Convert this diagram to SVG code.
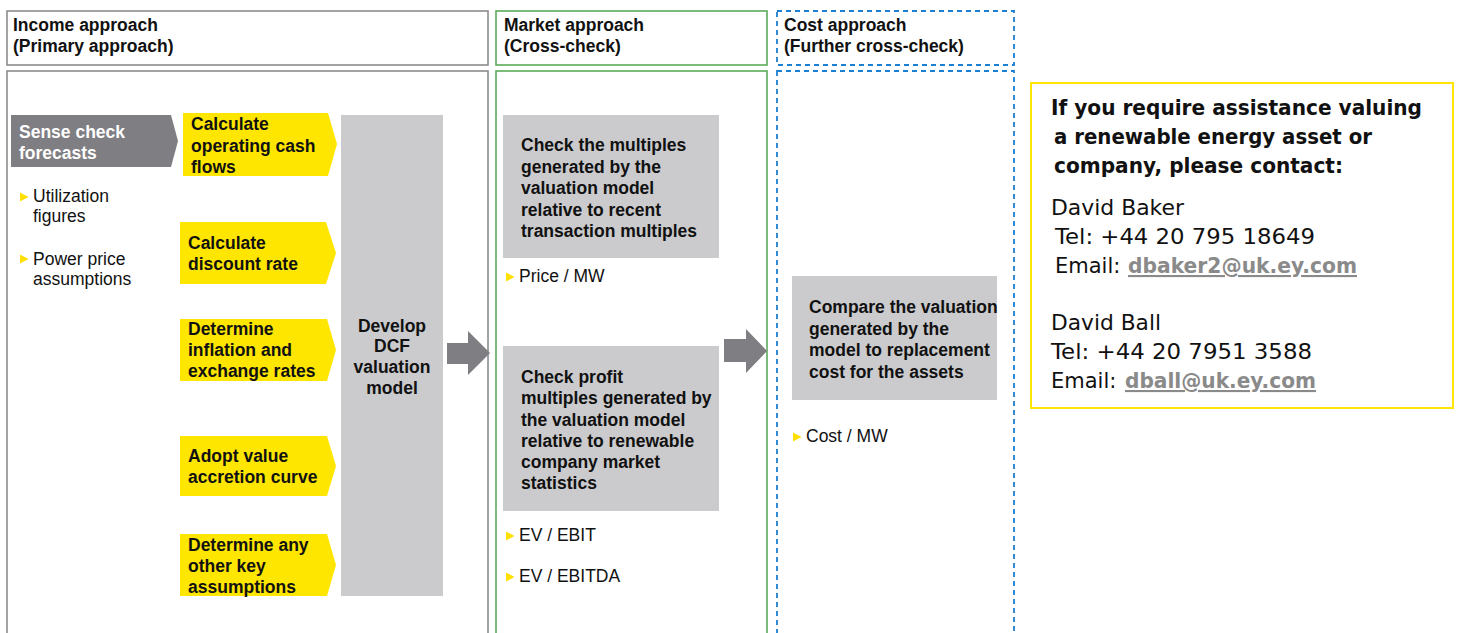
<svg xmlns="http://www.w3.org/2000/svg" width="1458" height="633" viewBox="0 0 1458 633">
  <defs>
    <style>
      .t { font-family: "Liberation Sans", Arial, sans-serif; font-size: 17.5px; fill: #111; }
      .b { font-weight: bold; }
      .w { fill: #ffffff; }
      .frame-inc { fill: none; stroke: #8c8c8c; stroke-width: 1.6; }
      .frame-mkt { fill: none; stroke: #5aab5a; stroke-width: 1.6; }
      .frame-cost { fill: none; stroke: #1b7fd3; stroke-width: 1.8; stroke-dasharray: 5 4; }
      .yel { fill: #ffe600; }
      .grey { fill: #cbcbcd; }
      .dark { fill: #7f7e82; }
      .bul { fill: #ffe000; }
      .c { font-family: "DejaVu Sans", "Noto Sans", sans-serif; font-size: 21px; fill: #111; }
      .link { fill: #8a8a8a; font-weight: bold; text-decoration: underline; }
    </style>
    <path id="tri" d="M0,-4.5 L8.5,0 L0,4.5 Z"/>
  </defs>
  <rect width="1458" height="633" fill="#ffffff"/>

  <!-- column frames -->
  <g id="income-column">
    <rect class="frame-inc" x="7" y="11" width="481" height="54"/>
    <text class="t b" x="13" y="31">Income approach</text>
    <text class="t b" x="13" y="52">(Primary approach)</text>
    <rect class="frame-inc" x="7" y="71" width="481" height="580"/>
  </g>
  <g id="market-column">
    <rect class="frame-mkt" x="496" y="11" width="271" height="54"/>
    <text class="t b" x="504" y="31">Market approach</text>
    <text class="t b" x="504" y="52">(Cross-check)</text>
    <rect class="frame-mkt" x="496" y="71" width="271" height="580"/>
  </g>
  <g id="cost-column">
    <rect class="frame-cost" x="777" y="11" width="237" height="54"/>
    <text class="t b" x="784" y="31">Cost approach</text>
    <text class="t b" x="784" y="52">(Further cross-check)</text>
    <rect class="frame-cost" x="777" y="71" width="237" height="580"/>
  </g>

  <!-- income approach steps -->
  <g id="sense-check">
    <path class="dark" d="M11,115 H171 L178,141 L171,167 H11 Z"/>
    <text class="t b w" x="19" y="138">Sense check</text>
    <text class="t b w" x="19" y="159">forecasts</text>
    <use href="#tri" class="bul" x="20" y="197"/>
    <text class="t" x="33" y="202">Utilization</text>
    <text class="t" x="33" y="222">figures</text>
    <use href="#tri" class="bul" x="20" y="259"/>
    <text class="t" x="33" y="265">Power price</text>
    <text class="t" x="33" y="285">assumptions</text>
  </g>
  <g id="operating-cash-flows">
    <path class="yel" d="M183,113 H328 L337,144 L328,176 H183 Z"/>
    <text class="t b" x="191" y="130">Calculate</text>
    <text class="t b" x="191" y="152">operating cash</text>
    <text class="t b" x="191" y="173">flows</text>
  </g>
  <g id="discount-rate">
    <path class="yel" d="M180,222 H326 L336,253 L326,284 H180 Z"/>
    <text class="t b" x="188" y="249">Calculate</text>
    <text class="t b" x="188" y="270">discount rate</text>
  </g>
  <g id="inflation-fx">
    <path class="yel" d="M180,319 H327 L336,350 L327,381 H180 Z"/>
    <text class="t b" x="188" y="335">Determine</text>
    <text class="t b" x="188" y="356">inflation and</text>
    <text class="t b" x="188" y="377">exchange rates</text>
  </g>
  <g id="value-accretion">
    <path class="yel" d="M180,436 H327 L336,466 L327,496 H180 Z"/>
    <text class="t b" x="188" y="462">Adopt value</text>
    <text class="t b" x="188" y="483">accretion curve</text>
  </g>
  <g id="other-assumptions">
    <path class="yel" d="M180,534 H327 L336,565 L327,596 H180 Z"/>
    <text class="t b" x="188" y="551">Determine any</text>
    <text class="t b" x="188" y="572">other key</text>
    <text class="t b" x="188" y="593">assumptions</text>
  </g>
  <g id="dcf-model">
    <rect class="grey" x="341" y="115" width="102" height="481"/>
    <text class="t b" x="392" y="332" text-anchor="middle">Develop</text>
    <text class="t b" x="392" y="352" text-anchor="middle">DCF</text>
    <text class="t b" x="392" y="373" text-anchor="middle">valuation</text>
    <text class="t b" x="392" y="394" text-anchor="middle">model</text>
  </g>

  <!-- market approach checks -->
  <g id="transaction-multiples">
    <rect class="grey" x="503" y="115" width="216" height="143"/>
    <text class="t b" x="521" y="151">Check the multiples</text>
    <text class="t b" x="521" y="172.5">generated by the</text>
    <text class="t b" x="521" y="194">valuation model</text>
    <text class="t b" x="521" y="215.5">relative to recent</text>
    <text class="t b" x="521" y="237">transaction multiples</text>
    <use href="#tri" class="bul" x="506" y="277"/>
    <text class="t" x="519" y="282">Price / MW</text>
  </g>
  <g id="profit-multiples">
    <rect class="grey" x="503" y="346" width="216" height="165"/>
    <text class="t b" x="521" y="383">Check profit</text>
    <text class="t b" x="521" y="404">multiples generated by</text>
    <text class="t b" x="521" y="425.5">the valuation model</text>
    <text class="t b" x="521" y="447">relative to renewable</text>
    <text class="t b" x="521" y="468">company market</text>
    <text class="t b" x="521" y="489">statistics</text>
    <use href="#tri" class="bul" x="506" y="536"/>
    <text class="t" x="519" y="541">EV / EBIT</text>
    <use href="#tri" class="bul" x="506" y="577"/>
    <text class="t" x="519" y="582">EV / EBITDA</text>
  </g>

  <!-- cost approach check -->
  <g id="replacement-cost">
    <rect class="grey" x="792" y="276" width="205" height="124"/>
    <text class="t b" x="809" y="313">Compare the valuation</text>
    <text class="t b" x="809" y="334.5">generated by the</text>
    <text class="t b" x="809" y="356">model to replacement</text>
    <text class="t b" x="809" y="377.5">cost for the assets</text>
    <use href="#tri" class="bul" x="793" y="437"/>
    <text class="t" x="806" y="442">Cost / MW</text>
  </g>

  <!-- flow arrows between approaches -->
  <g id="connectors">
    <path class="dark" d="M447,343 H468 V331 L490,353 L468,375 V364 H447 Z"/>
    <path class="dark" d="M724,339 H746 V329 L767,351 L746,373 V362 H724 Z"/>
  </g>

  <!-- contact panel -->
  <g id="contact">
    <rect x="1031" y="83" width="422" height="325" fill="none" stroke="#ffe600" stroke-width="2"/>
    <text class="c b" x="1051" y="115" textLength="371" lengthAdjust="spacingAndGlyphs">If you require assistance valuing</text>
    <text class="c b" x="1054" y="144" textLength="318" lengthAdjust="spacingAndGlyphs">a renewable energy asset or</text>
    <text class="c b" x="1054" y="173" textLength="289" lengthAdjust="spacingAndGlyphs">company, please contact:</text>
    <text class="c" x="1051" y="215" textLength="133" lengthAdjust="spacingAndGlyphs">David Baker</text>
    <text class="c" x="1055" y="244" textLength="260" lengthAdjust="spacingAndGlyphs">Tel: +44 20 795 18649</text>
    <text class="c" x="1055" y="273">Email:</text>
    <text class="c link" x="1128" y="273" textLength="229" lengthAdjust="spacingAndGlyphs">dbaker2@uk.ey.com</text>
    <text class="c" x="1051" y="330" textLength="110" lengthAdjust="spacingAndGlyphs">David Ball</text>
    <text class="c" x="1051" y="359" textLength="261" lengthAdjust="spacingAndGlyphs">Tel: +44 20 7951 3588</text>
    <text class="c" x="1051" y="388">Email:</text>
    <text class="c link" x="1125" y="388" textLength="191" lengthAdjust="spacingAndGlyphs">dball@uk.ey.com</text>
  </g>
</svg>
